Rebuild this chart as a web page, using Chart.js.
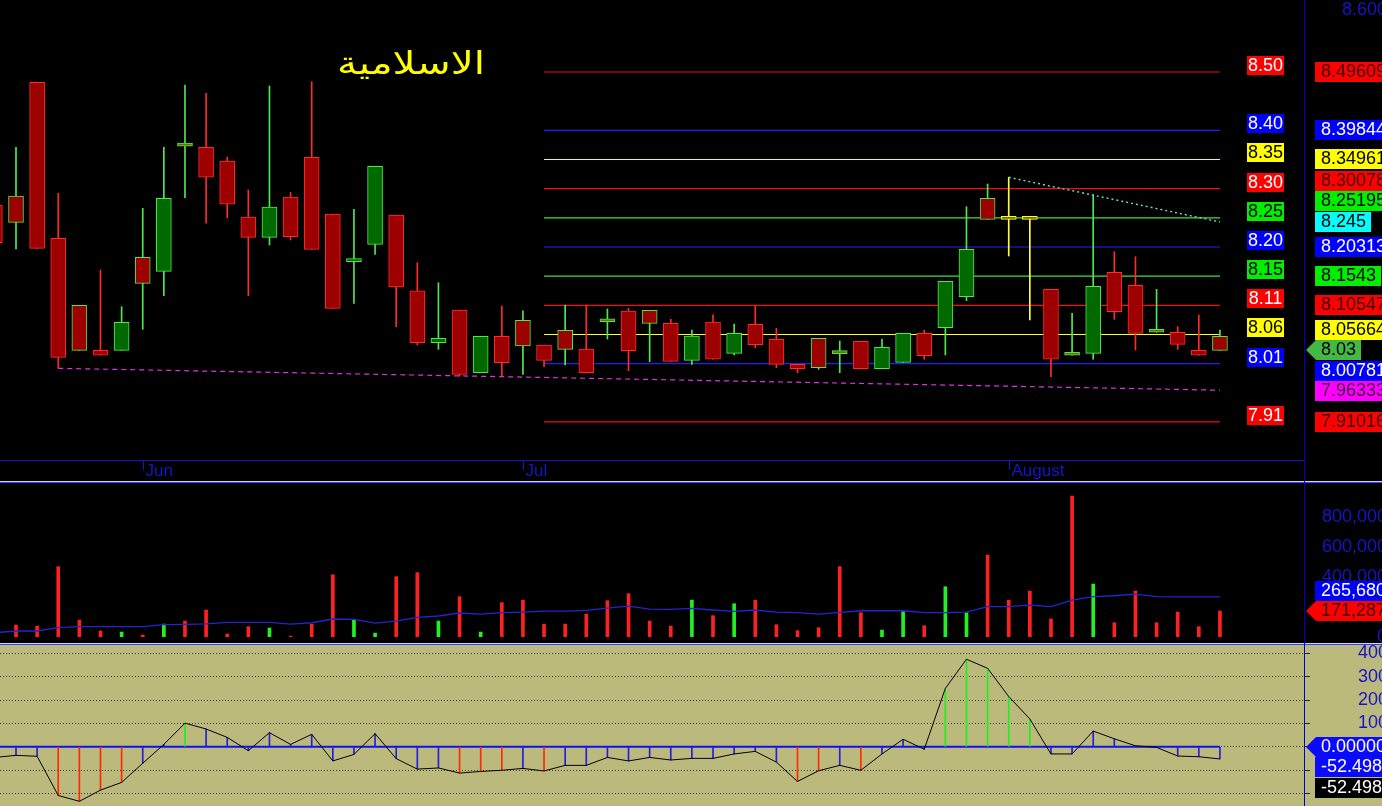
<!DOCTYPE html>
<html><head><meta charset="utf-8">
<script src="https://cdn.jsdelivr.net/npm/chart.js@4.4.1/dist/chart.umd.min.js"></script>
<style>
html,body{margin:0;padding:0;background:#000;overflow:hidden}
#wrap{position:relative;width:1382px;height:806px;background:#000}
canvas{position:absolute;left:0}
.ln{position:absolute;left:0;width:1382px;height:1px}
</style></head><body>
<div id="wrap">
<canvas id="cp" width="1382" height="482" style="top:0"></canvas>
<div class="ln" style="top:481px;background:#d0d0f0"></div>
<div class="ln" style="top:482px;background:#3a3aff"></div>
<canvas id="cv" width="1382" height="159" style="top:484px"></canvas>
<div class="ln" style="top:643px;background:#d0d0f0"></div>
<div class="ln" style="top:644px;background:#3a3aff"></div>
<canvas id="co" width="1382" height="161" style="top:645px;background:#bcb97c"></canvas>
<div style="position:absolute;left:1304px;top:0;width:1px;height:806px;background:#0000c8"></div>
</div>
<script>
// ---------------- DATA ----------------
const titleText = 'الاسلامية';
const opens  = [8.2734,8.2885,8.4788,8.2176,8.1055,8.0301,8.0301,8.1858,8.1624,8.3720,8.3700,8.3471,8.2533,8.2193,8.2868,8.3533,8.2583,8.1785,8.2076,8.2566,8.1299,8.0429,8.0976,7.9926,8.0536,8.0804,8.0390,8.0636,8.0323,8.0780,8.0959,8.0971,8.0753,8.0134,8.0775,8.0251,8.0737,8.0485,8.0067,8.0502,8.0245,8.0452,7.9993,8.0100,8.0586,8.0680,8.1199,8.2846,8.2494,8.2494,8.1322,8.0218,8.0251,8.1607,8.1389,8.0603,8.0603,8.0301,8.0536];
const highs  = [8.2800,8.3700,8.4788,8.2930,8.1055,8.1646,8.1031,8.2679,8.3700,8.4743,8.4604,8.3533,8.2985,8.4726,8.2946,8.4798,8.2583,8.2662,8.3382,8.2566,8.1768,8.1433,8.0976,8.0536,8.1043,8.0964,8.0390,8.1060,8.1060,8.0993,8.1004,8.0971,8.0820,8.0641,8.0897,8.0742,8.1043,8.0670,8.0067,8.0502,8.0457,8.0452,8.0485,8.0586,8.0641,8.1456,8.2705,8.3085,8.3198,8.2494,8.1322,8.0921,8.2901,8.1952,8.1868,8.1322,8.0696,8.0892,8.0641];
const lows   = [8.2000,8.1997,8.2009,8.0000,8.0301,8.0218,8.0301,8.0653,8.1215,8.2856,8.2428,8.2521,8.1215,8.2064,8.2148,8.1992,8.1004,8.1088,8.1908,8.0696,8.0390,8.0318,7.9870,7.9926,7.9871,7.9899,8.0027,8.0055,7.9926,8.0490,7.9960,8.0110,8.0117,8.0067,8.0151,8.0223,8.0345,8.0010,7.9926,7.9983,7.9926,7.9993,7.9993,8.0100,8.0151,8.0223,8.1132,8.2494,8.1880,8.0809,7.9859,8.0218,8.0151,8.0820,8.0306,8.0603,8.0318,8.0218,8.0300];
const closes = [8.2103,8.2444,8.2009,8.0184,8.0301,8.0218,8.0770,8.1423,8.2846,8.3720,8.3198,8.2746,8.2193,8.2700,8.2203,8.1992,8.1004,8.1830,8.3382,8.1361,8.0429,8.0502,7.9899,8.0536,8.0094,8.0373,8.0134,8.0318,7.9926,8.0780,8.0295,8.0753,8.0117,8.0541,8.0151,8.0586,8.0395,8.0067,7.9993,8.0010,8.0245,7.9993,8.0351,8.0586,8.0211,8.1456,8.1992,8.2494,8.2494,8.2494,8.0151,8.0218,8.1373,8.0947,8.0586,8.0603,8.0402,8.0218,8.0300];
const volumes = [null,78000,71000,467000,111000,38000,31000,11000,84000,104000,178000,18000,67000,58000,4000,84000,413000,111000,24000,400000,427000,104000,267000,31000,227000,244000,84000,84000,151000,240000,287000,104000,71000,244000,140000,220000,244000,80000,40000,60000,467000,160000,44000,167000,73000,333000,160000,544000,244000,304000,118000,938000,351000,93000,304000,93000,164000,67000,171287];
const volumeMA = [27000,38000,38000,60000,67000,67000,67000,67000,80000,82000,86000,96000,96000,96000,84000,93000,118000,116000,91000,104000,129000,138000,158000,151000,160000,164000,171000,171000,176000,191000,204000,184000,182000,189000,178000,169000,178000,164000,160000,151000,162000,173000,173000,173000,160000,160000,164000,200000,200000,211000,200000,244000,267000,273000,284000,267000,266000,266000,265680];
const oscillator = [-46,-37,-41,-209,-234,-186,-153,-71,10,101,76,40,-17,60,10,53,-61,-33,56,-51,-96,-91,-113,-106,-101,-93,-104,-80,-80,-46,-61,-46,-57,-50,-50,-31,-20,-66,-149,-103,-80,-101,-31,32,-11,250,375,336,215,119,-31,-31,67,34,4,-3,-40,-43,-52.498];
const oscSignalLast = -52.498;
const levelValues = [8.49609,8.39844,8.34961,8.30078,8.25195,8.20313,8.1543,8.10547,8.05664,8.00781,7.91016];
const levelColors = ['red','blue','yellow','red','green','blue','green','red','yellow','blue','red'];
const levelRange = [26,58];
const resistanceX = [48,58], resistanceY = [8.3198,8.245];
const supportX = [3,58], supportY = [8.0000,7.96333];
const monthTickIndex = [7,25,48];
const monthTickLabels = ['Jun','Jul','August'];
const priceTopTick = 8.6;
const volumeTickValues = [800000,600000,400000,0];
const oscTickLabels = [400,300,200,100];
const oscGridValues = [-200,-100,0,100,200,300,400];

// ---------------- STYLE ----------------
const AXIS_BLUE = '#1515c8';
const PAL = {
  red:    {line:'#f01010', bg:'#ff0000', fgR:'#3a0000', fgL:'#ffffff'},
  blue:   {line:'#2020ff', bg:'#0000ff', fgR:'#ffffff', fgL:'#ffffff'},
  yellow: {line:'#ffff20', bg:'#ffff00', fgR:'#000000', fgL:'#000000'},
  green:  {line:'#40e040', bg:'#00ee00', fgR:'#000000', fgL:'#000000'}
};
const X_MIN = 0.2424, X_MAX = 61.98;
const idx = opens.map((_, i) => i);
const fillCol = idx.map(i => closes[i] > opens[i] ? '#006a00' : (closes[i] < opens[i] ? '#9c0000' : '#6e6e00'));
const edgeCol = idx.map(i => i === 0 ? '#ff2a2a' : (closes[i] > closes[i-1] ? '#4ee84e' : (closes[i] < closes[i-1] ? '#ff2a2a' : '#ffff30')));
const volCol = idx.map(i => closes[i] > opens[i] ? '#22f022' : '#ff2020');
const oscCol = oscillator.map(v => v > 100 ? '#22ee22' : (v < -100 ? '#ff2a00' : '#2020e0'));

Chart.defaults.font.family = 'Arial, "Liberation Sans", sans-serif';

function resolve(items, h) {
  items.sort((a, b) => a.ideal - b.ideal || a.ord - b.ord);
  items.forEach(it => it.y = it.ideal);
  for (let i = 1; i < items.length; i++) if (!items[i].fixed) items[i].y = Math.max(items[i].y, items[i-1].y + h);
  for (let i = items.length - 2; i >= 0; i--) if (!items[i].fixed) items[i].y = Math.min(items[i].y, items[i+1].y - h);
  return items;
}
function drawRightLabels(ctx, items) {
  ctx.font = '18px Arial';
  ctx.textBaseline = 'middle';
  ctx.textAlign = 'left';
  items.forEach(it => {
    const tx = 1321, w = ctx.measureText(it.text).width;
    const right = tx + w + 5, top = Math.round(it.y - 10), bot = top + 20;
    ctx.fillStyle = it.bg;
    ctx.beginPath();
    if (it.arrow) {
      ctx.moveTo(1306, (top + bot) / 2); ctx.lineTo(1316, top); ctx.lineTo(right, top); ctx.lineTo(right, bot); ctx.lineTo(1316, bot);
    } else {
      ctx.rect(1315, top, right - 1315, 20);
    }
    ctx.closePath(); ctx.fill();
    ctx.fillStyle = it.fg;
    ctx.fillText(it.text, tx, top + 10.5);
  });
}
function axisWidth(w) { return s => { s.width = w; }; }

// ---------------- PRICE CHART ----------------
const priceDatasets = [];
levelValues.forEach((v, k) => priceDatasets.push({
  type: 'line', data: [{x: levelRange[0], y: v}, {x: levelRange[1], y: v}],
  borderColor: PAL[levelColors[k]].line, borderWidth: 1.2, pointRadius: 0, order: 10
}));
priceDatasets.push({type: 'line', data: supportX.map((x, k) => ({x, y: supportY[k]})),
  borderColor: '#dd33dd', borderWidth: 1.2, borderDash: [5, 4], pointRadius: 0, order: 8});
priceDatasets.push({type: 'bar', data: idx.map(i => ({x: i, y: [lows[i], highs[i]]})),
  backgroundColor: edgeCol, barThickness: 1, grouped: false, order: 5});
priceDatasets.push({type: 'bar', data: idx.map(i => ({x: i, y: [opens[i], closes[i]]})),
  backgroundColor: fillCol, borderColor: edgeCol, borderWidth: 1, borderSkipped: false,
  barThickness: 15, minBarLength: 3, grouped: false, order: 2});
priceDatasets.push({type: 'line', data: resistanceX.map((x, k) => ({x, y: resistanceY[k]})),
  borderColor: '#66dddd', borderWidth: 1.4, borderDash: [2, 3], pointRadius: 0, order: 1});

const pricePlugin = {
  id: 'priceDecor',
  afterDatasetsDraw(chart) {
    const {ctx, scales: {x, y}} = chart;
    ctx.save();
    // title
    ctx.font = "32px 'DejaVu Sans'"; ctx.fillStyle = '#ffff00'; ctx.textAlign = 'center'; ctx.textBaseline = 'alphabetic';
    const tw = ctx.measureText(titleText).width;
    ctx.save(); ctx.translate(411, 74); ctx.scale(148 / tw, 1.0);
    ctx.fillText(titleText, 0, 0); ctx.restore();
    // month ticks
    ctx.strokeStyle = AXIS_BLUE; ctx.fillStyle = AXIS_BLUE; ctx.lineWidth = 1;
    ctx.font = '17px Arial'; ctx.textAlign = 'left'; ctx.textBaseline = 'middle';
    monthTickIndex.forEach((v, k) => {
      const px = Math.round(x.getPixelForValue(v)) + 0.5;
      ctx.beginPath(); ctx.moveTo(px, y.bottom); ctx.lineTo(px, y.bottom + 10); ctx.stroke();
      ctx.fillText(monthTickLabels[k], px + 2, y.bottom + 11);
    });
    // left level labels
    ctx.font = '18px Arial'; ctx.textAlign = 'center';
    levelValues.forEach((v, k) => {
      const py = y.getPixelForValue(v), p = PAL[levelColors[k]];
      ctx.fillStyle = p.bg; ctx.fillRect(1247, Math.round(py - 16), 37, 19);
      ctx.fillStyle = p.fgL; ctx.fillText(v.toFixed(2), 1265.5, Math.round(py - 16) + 10);
    });
    // top tick
    ctx.fillStyle = AXIS_BLUE; ctx.textAlign = 'right';
    ctx.fillText(priceTopTick.toFixed(3), 1387, y.getPixelForValue(priceTopTick));
    // right labels
    const items = levelValues.map((v, k) => ({ideal: y.getPixelForValue(v), ord: k, text: String(v), bg: PAL[levelColors[k]].bg, fg: PAL[levelColors[k]].fgR}));
    items.push({ideal: y.getPixelForValue(resistanceY[1]), ord: 20, text: String(resistanceY[1]), bg: '#00ffff', fg: '#000', fixed: true});
    items.push({ideal: y.getPixelForValue(supportY[1]), ord: 21, text: String(supportY[1]), bg: '#ff00ff', fg: '#400040'});
    const last = closes[closes.length - 1];
    items.push({ideal: y.getPixelForValue(last), ord: 22, text: String(last), bg: '#44b844', fg: '#000', fixed: true, arrow: true});
    drawRightLabels(ctx, resolve(items, 20.5));
    ctx.restore();
  }
};

new Chart(document.getElementById('cp'), {
  type: 'bar',
  data: {datasets: priceDatasets},
  options: {
    responsive: false, animation: false, devicePixelRatio: 1, events: [],
    layout: {padding: 0},
    plugins: {legend: {display: false}, tooltip: {enabled: false}},
    scales: {
      x: {type: 'linear', min: X_MIN, max: X_MAX, offset: false, grid: {display: false},
          ticks: {display: false}, border: {display: true, color: AXIS_BLUE, width: 1},
          afterFit: s => { s.height = 22; }},
      y: {type: 'linear', position: 'right', min: 7.8465, max: 8.6166, grid: {display: false},
          ticks: {display: false}, border: {display: false}, afterFit: axisWidth(78)}
    }
  },
  plugins: [pricePlugin]
});

// ---------------- VOLUME CHART ----------------
const volPlugin = {
  id: 'volDecor',
  afterDatasetsDraw(chart) {
    const {ctx, scales: {y}} = chart;
    ctx.save();
    ctx.font = '18px Arial'; ctx.fillStyle = AXIS_BLUE; ctx.textAlign = 'right'; ctx.textBaseline = 'middle';
    volumeTickValues.forEach(v => ctx.fillText(v.toLocaleString('en-US'), 1387, y.getPixelForValue(v)));
    const maLast = volumeMA[volumeMA.length - 1], vLast = volumes[volumes.length - 1];
    const items = [
      {ideal: y.getPixelForValue(maLast), ord: 0, text: maLast.toLocaleString('en-US'), bg: '#0000ff', fg: '#fff'},
      {ideal: y.getPixelForValue(vLast), ord: 1, text: vLast.toLocaleString('en-US'), bg: '#ff0000', fg: '#3a0000', fixed: true, arrow: true}
    ];
    drawRightLabels(ctx, resolve(items, 20.5));
    ctx.restore();
  }
};
new Chart(document.getElementById('cv'), {
  type: 'bar',
  data: {datasets: [
    {type: 'line', data: idx.map(i => ({x: i, y: volumeMA[i]})), borderColor: '#2424d0', borderWidth: 1.3, pointRadius: 0, order: 1},
    {type: 'bar', data: idx.map(i => ({x: i, y: volumes[i]})), backgroundColor: volCol, barThickness: 3, grouped: false, order: 2}
  ]},
  options: {
    responsive: false, animation: false, devicePixelRatio: 1, events: [],
    layout: {padding: 0},
    plugins: {legend: {display: false}, tooltip: {enabled: false}},
    scales: {
      x: {type: 'linear', min: X_MIN, max: X_MAX, offset: false, display: false},
      y: {type: 'linear', position: 'right', min: -42000, max: 1018000, grid: {display: false},
          ticks: {display: false}, border: {display: false}, afterFit: axisWidth(78)}
    }
  },
  plugins: [volPlugin]
});

// ---------------- OSCILLATOR CHART ----------------
const oscPlugin = {
  id: 'oscDecor',
  afterDatasetsDraw(chart) {
    const {ctx, scales: {y}} = chart;
    ctx.save();
    ctx.font = '18px Arial'; ctx.fillStyle = AXIS_BLUE; ctx.textAlign = 'right'; ctx.textBaseline = 'middle';
    oscTickLabels.forEach(v => ctx.fillText(String(v), 1388, y.getPixelForValue(v)));
    const oLast = oscillator[oscillator.length - 1];
    const items = [
      {ideal: y.getPixelForValue(0), ord: 0, text: (0).toFixed(5), bg: '#0a0aff', fg: '#fff', fixed: true, arrow: true},
      {ideal: y.getPixelForValue(oLast), ord: 1, text: String(oLast), bg: '#0a0aff', fg: '#fff'},
      {ideal: y.getPixelForValue(oscSignalLast), ord: 2, text: String(oscSignalLast), bg: '#000000', fg: '#fff'}
    ];
    drawRightLabels(ctx, resolve(items, 20.5));
    ctx.restore();
  }
};
new Chart(document.getElementById('co'), {
  type: 'bar',
  data: {datasets: [
    {type: 'line', data: [{x: 0, y: 0}, {x: idx.length - 1, y: 0}], borderColor: '#1010f0', borderWidth: 2, pointRadius: 0, order: 3},
    {type: 'bar', data: idx.map(i => ({x: i, y: oscillator[i]})), backgroundColor: oscCol, barThickness: 1, grouped: false, order: 2},
    {type: 'line', data: idx.map(i => ({x: i, y: oscillator[i]})), borderColor: '#000000', borderWidth: 1, pointRadius: 0, order: 1}
  ]},
  options: {
    responsive: false, animation: false, devicePixelRatio: 1, events: [],
    layout: {padding: 0},
    plugins: {legend: {display: false}, tooltip: {enabled: false}},
    scales: {
      x: {type: 'linear', min: X_MIN, max: X_MAX, offset: false, display: false},
      y: {type: 'linear', position: 'right', min: -254.1, max: 435.9,
          afterBuildTicks: s => { s.ticks = oscGridValues.map(v => ({value: v})); },
          grid: {display: true, color: '#3c3c28', lineWidth: 1, drawTicks: true, tickLength: 6, tickColor: '#222'},
          border: {display: false, dash: [1, 2]},
          ticks: {display: false}, afterFit: axisWidth(78)}
    }
  },
  plugins: [oscPlugin]
});
</script>
</body></html>
